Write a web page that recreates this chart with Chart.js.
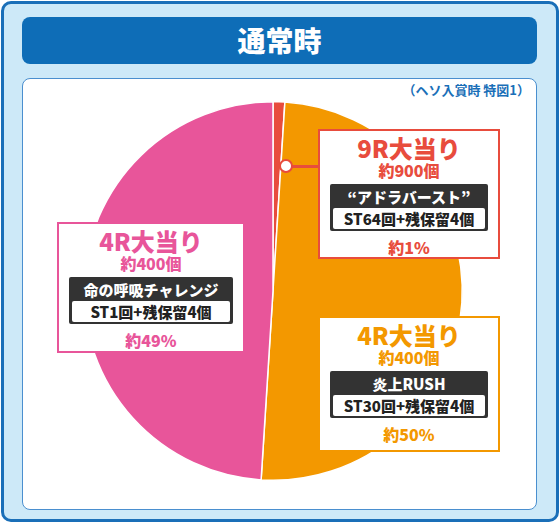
<!DOCTYPE html><html><head><meta charset="utf-8">
<script src="https://cdn.jsdelivr.net/npm/chart.js@4/dist/chart.umd.min.js"></script>
<style>
body{margin:0;width:560px;height:523px;overflow:hidden;font-family:"Noto Sans CJK JP",sans-serif;background:#fff}
#outer{position:absolute;left:1px;top:1px;width:552px;height:515px;background:#cde9f8;border:3px solid #1a6fb8;border-radius:10px}
#title{position:absolute;left:22px;top:17px;width:515px;height:47px;background:#0e6db7;border-radius:8px;color:#fff;font-weight:900;font-size:28px;text-align:center;line-height:47px}
#panel{position:absolute;left:22px;top:78px;width:513px;height:430px;background:#fff;border:1.5px solid #4a8fcf;border-radius:8px}
#note{position:absolute;right:30px;top:80px;color:#1a6fb8;font-size:13px;font-weight:bold}
#cw{position:absolute;left:73px;top:91px;width:400px;height:400px}
.box{position:absolute;background:#fff;border:2.5px solid;text-align:center;font-weight:900;box-sizing:border-box}
.h{font-size:24px;line-height:27px;margin-top:3px}
.s{font-size:16px;line-height:19px}
.dk{background:#333;color:#fff;margin:4px 10px;padding:2px 3px;border-radius:2px;font-size:15px;line-height:21px}
.dk div.w{background:#fff;color:#222;border-radius:2px;margin-top:1px}
.p{font-size:16px;margin-top:3px}
</style></head><body>
<div id="outer"></div><div id="title">通常時</div><div id="panel"></div>
<div id="note">（ヘソ入賞時 特図1）</div>
<div id="cw"><canvas id="c" width="400" height="400"></canvas></div>
<div id="ln" style="position:absolute;left:285px;top:165px;width:35px;height:2.5px;background:#e84c3d"></div>
<div style="position:absolute;left:279px;top:159px;width:10px;height:10px;border-radius:50%;background:#fff;border:2.5px solid #e84c3d"></div>
<div class="box" style="left:318px;top:129px;width:182px;height:130px;border-color:#e84c3d;color:#e84c3d">
<div class="h">9R大当り</div><div class="s">約900個</div>
<div class="dk">“アドラバースト”<div class="w">ST64回+残保留4個</div></div><div class="p">約1%</div></div>
<div class="box" style="left:318px;top:316px;width:182px;height:136px;border-color:#f39800;color:#f39800">
<div class="h">4R大当り</div><div class="s">約400個</div>
<div class="dk">炎上RUSH<div class="w">ST30回+残保留4個</div></div><div class="p">約50%</div></div>
<div class="box" style="left:57px;top:222px;width:188px;height:131px;border-color:#e8559a;color:#e8559a">
<div class="h">4R大当り</div><div class="s">約400個</div>
<div class="dk">命の呼吸チャレンジ<div class="w">ST1回+残保留4個</div></div><div class="p">約49%</div></div>
<script>
const categories=["9R大当り","4R大当り(炎上RUSH)","4R大当り(命の呼吸チャレンジ)"];
const values=[1,50,49];
const colors=["#e84c3d","#f39800","#e8559a"];
new Chart(document.getElementById('c'),{type:'pie',data:{labels:categories,datasets:[{data:values,backgroundColor:colors,borderColor:'#fff',borderWidth:1.5}]},
options:{responsive:false,animation:false,layout:{padding:10},plugins:{legend:{display:false},tooltip:{enabled:false}}}});
</script></body></html>
